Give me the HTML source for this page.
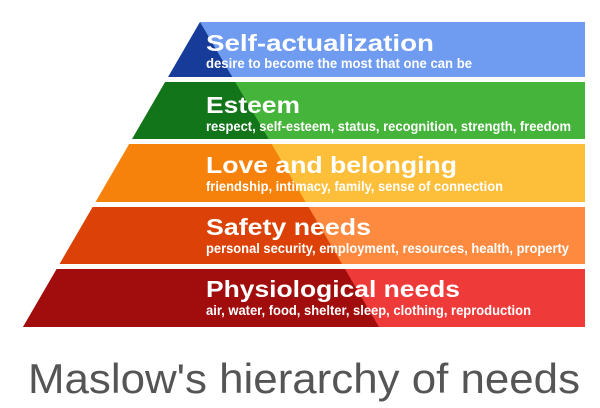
<!DOCTYPE html>
<html><head><meta charset="utf-8"><style>
html,body{margin:0;padding:0;background:#fff;width:600px;height:408px;overflow:hidden}
svg{display:block}
.t{font-family:"Liberation Sans",sans-serif;font-weight:bold;fill:#fff}
</style></head><body>
<svg width="600" height="408" viewBox="0 0 600 408" xmlns="http://www.w3.org/2000/svg">
<defs>
<clipPath id="pyr"><polygon points="200,22 585,22 585,327 23,327"/></clipPath>
<clipPath id="dark"><polygon points="200,22 379,327 0,327 0,22"/></clipPath>
</defs>
<g clip-path="url(#pyr)">
 <rect x="0" y="22" width="600" height="55" fill="#6f9cf0"/>
 <rect x="0" y="82" width="600" height="57" fill="#45b43a"/>
 <rect x="0" y="144" width="600" height="58" fill="#fdbe3a"/>
 <rect x="0" y="207" width="600" height="57" fill="#fd8a3e"/>
 <rect x="0" y="269" width="600" height="58" fill="#ef3a3a"/>
 <g clip-path="url(#dark)">
  <rect x="0" y="22" width="600" height="55" fill="#173b98"/>
  <rect x="0" y="82" width="600" height="57" fill="#127519"/>
  <rect x="0" y="144" width="600" height="58" fill="#f7820b"/>
  <rect x="0" y="207" width="600" height="57" fill="#dc4207"/>
  <rect x="0" y="269" width="600" height="58" fill="#a10c0c"/>
 </g>
</g>
<text class="t" x="206" y="51" font-size="23.5" textLength="228" lengthAdjust="spacingAndGlyphs">Self-actualization</text>
<text class="t" x="206" y="68" font-size="13.5" textLength="266" lengthAdjust="spacingAndGlyphs">desire to become the most that one can be</text>
<text class="t" x="206" y="113" font-size="23.5" textLength="94" lengthAdjust="spacingAndGlyphs">Esteem</text>
<text class="t" x="206" y="131" font-size="13.5" textLength="365" lengthAdjust="spacingAndGlyphs">respect, self-esteem, status, recognition, strength, freedom</text>
<text class="t" x="206" y="173" font-size="23.5" textLength="251" lengthAdjust="spacingAndGlyphs">Love and belonging</text>
<text class="t" x="206" y="191" font-size="13.5" textLength="297" lengthAdjust="spacingAndGlyphs">friendship, intimacy, family, sense of connection</text>
<text class="t" x="206" y="235" font-size="23.5" textLength="165" lengthAdjust="spacingAndGlyphs">Safety needs</text>
<text class="t" x="206" y="253" font-size="13.5" textLength="363" lengthAdjust="spacingAndGlyphs">personal security, employment, resources, health, property</text>
<text class="t" x="206" y="297" font-size="23.5" textLength="254" lengthAdjust="spacingAndGlyphs">Physiological needs</text>
<text class="t" x="206" y="315" font-size="13.5" textLength="325" lengthAdjust="spacingAndGlyphs">air, water, food, shelter, sleep, clothing, reproduction</text>
<text x="28" y="393" font-family="Liberation Sans, sans-serif" font-size="42" fill="#555" textLength="552" lengthAdjust="spacingAndGlyphs">Maslow's hierarchy of needs</text>
</svg>
</body></html>
